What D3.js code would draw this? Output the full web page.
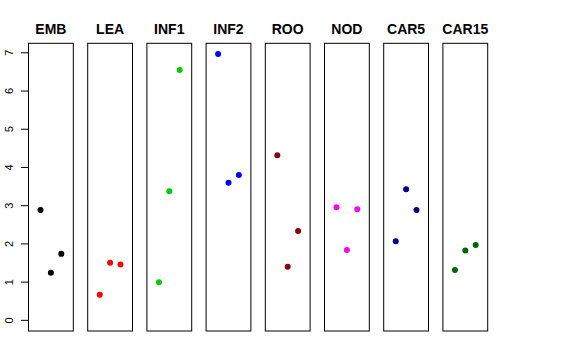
<!DOCTYPE html>
<html><head><meta charset="utf-8">
<script src="https://cdn.jsdelivr.net/npm/d3@7"></script>
<style>body{margin:0;background:#fff}svg{display:block}</style>
</head><body>
<script>
const categories = ["EMB","LEA","INF1","INF2","ROO","NOD","CAR5","CAR15"];
const colors = ["#000000","#FF0000","#00CD00","#0000FF","#8B0000","#FF00FF","#00008B","#006400"];
const positions = [1,2,3];
const valuesEMB = [2.89,1.245,1.74];
const valuesLEA = [0.67,1.51,1.46];
const valuesINF1 = [1.0,3.38,6.55];
const valuesINF2 = [6.97,3.60,3.80];
const valuesROO = [4.32,1.40,2.34];
const valuesNOD = [2.96,1.84,2.91];
const valuesCAR5 = [2.07,3.43,2.89];
const valuesCAR15 = [1.32,1.83,1.97];
const yTicks = [0,1,2,3,4,5,6,7];
const series = [valuesEMB,valuesLEA,valuesINF1,valuesINF2,valuesROO,valuesNOD,valuesCAR5,valuesCAR15];

(function(){
const W=576,H=360;
const svg=d3.select("body").append("svg").attr("width",W).attr("height",H);
const pTop=43.3,pBottom=331,pw=44.8,step=59.2,left0=28.5;
const ymax=d3.max(series.flat());
const y=d3.scaleLinear().domain([-0.04*ymax,ymax*1.04]).range([pBottom,pTop]);
const x=d3.scaleLinear().domain([-0.16,4.16]).range([0,pw]);

categories.forEach((c,i)=>{
  const g=svg.append("g").attr("transform",`translate(${left0+step*i},0)`);
  g.append("rect").attr("x",0).attr("y",pTop).attr("width",pw).attr("height",pBottom-pTop)
    .attr("fill","none").attr("stroke","#000").attr("stroke-width",1);
  g.selectAll("circle").data(series[i]).join("circle")
    .attr("cx",(d,j)=>x(positions[j])).attr("cy",d=>y(d)).attr("r",3).attr("fill",colors[i]);
  g.append("text").attr("x",pw/2).attr("y",34.3).attr("text-anchor","middle")
    .attr("font-family","Liberation Sans, Arial, sans-serif").attr("font-weight","bold")
    .attr("font-size",14).text(c);
});

const ax=svg.append("g");
yTicks.forEach(t=>{
  ax.append("line").attr("x1",21).attr("x2",left0).attr("y1",y(t)).attr("y2",y(t))
    .attr("stroke","#000").attr("stroke-width",1);
  ax.append("text").attr("transform",`translate(12.5,${y(t)}) rotate(-90)`)
    .attr("text-anchor","middle").attr("font-family","Liberation Sans, Arial, sans-serif")
    .attr("font-size",11).text(t);
});
ax.append("line").attr("x1",left0).attr("x2",left0).attr("y1",y(0)).attr("y2",y(7))
  .attr("stroke","#000").attr("stroke-width",1);
})();
</script>
</body></html>
